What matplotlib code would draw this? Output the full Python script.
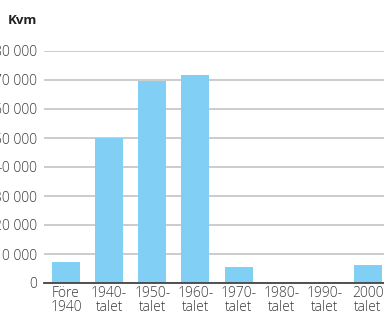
import matplotlib
matplotlib.use("Agg")
from matplotlib import pyplot as plt
import numpy as np

# categories and floor area (kvm) per construction decade
categories = ["Före\n1940", "1940-\ntalet", "1950-\ntalet", "1960-\ntalet",
              "1970-\ntalet", "1980-\ntalet", "1990-\ntalet", "2000\ntalet"]
values = [7200, 50000, 69800, 71700, 5500, 0, 0, 6200]
yticks = [0, 10000, 20000, 30000, 40000, 50000, 60000, 70000, 80000]

plt.rcParams['font.family'] = ['Open Sans', 'DejaVu Sans']

fig = plt.figure(figsize=(3.84, 3.2), dpi=100)
ax = fig.add_axes([44.4/384, 37/320, 345.2/384, 232/320])

x = np.arange(len(values))
ax.bar(x, values, width=0.65, color='#81cff4', zorder=2)

ax.set_xlim(-0.5, len(values) - 0.5)
ax.set_ylim(0, 80000)
ax.set_yticks(yticks)
ax.set_yticklabels(["{:,}".format(v).replace(",", " ") for v in yticks])
ax.set_xticks(x)
ax.set_xticklabels(categories, linespacing=0.95)

ax.grid(axis='y', color='#c4c4c4', linewidth=1.2, zorder=0)
ax.set_axisbelow(True)
for s in ['top', 'right', 'left']:
    ax.spines[s].set_visible(False)
ax.spines['bottom'].set_color('#444444')
ax.spines['bottom'].set_linewidth(1.3)
ax.spines['bottom'].set_zorder(3)

ax.tick_params(axis='y', length=0, pad=5, labelsize=10, labelcolor='#3a3a3a')
ax.tick_params(axis='x', length=0, pad=2, labelsize=10, labelcolor='#3a3a3a')
for lab in ax.get_xticklabels() + ax.get_yticklabels():
    lab.set_fontweight('light')

fig.text(8/384, 1 - 20/320, "Kvm", fontsize=9.5, fontweight='bold',
         color='#222222', va='center', ha='left')

fig.savefig("out.png", dpi=100)
